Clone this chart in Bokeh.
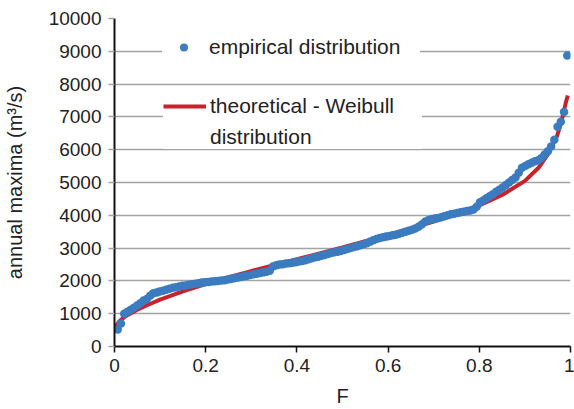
from bokeh.plotting import figure
from bokeh.models import Range1d, FixedTicker, Legend, LegendItem
from bokeh.embed import file_html
from bokeh.resources import INLINE

# Empirical annual maxima (sorted), plotted at F = i/(n+1)
empirical_maxima = [
    520, 700, 1000, 1060, 1120, 1180, 1250, 1320, 1400, 1450,
    1550, 1620, 1650, 1680, 1700, 1730, 1760, 1790, 1810, 1830,
    1850, 1860, 1880, 1900, 1910, 1930, 1950, 1960, 1970, 1980,
    1990, 2000, 2010, 2020, 2040, 2060, 2080, 2100, 2120, 2140,
    2160, 2180, 2200, 2220, 2240, 2260, 2280, 2310, 2440, 2480,
    2500, 2510, 2530, 2540, 2550, 2570, 2590, 2610, 2630, 2660,
    2690, 2720, 2740, 2770, 2790, 2820, 2850, 2870, 2890, 2910,
    2940, 2970, 3000, 3030, 3060, 3090, 3120, 3150, 3190, 3240,
    3280, 3310, 3330, 3350, 3370, 3390, 3410, 3440, 3470, 3500,
    3530, 3560, 3600, 3650, 3720, 3800, 3850, 3880, 3900, 3920,
    3940, 3970, 4000, 4030, 4050, 4070, 4090, 4110, 4130, 4150,
    4180, 4260, 4400, 4450, 4520, 4580, 4640, 4720, 4780, 4850,
    4920, 5000, 5080, 5150, 5300, 5450, 5500, 5560, 5600, 5650,
    5680, 5750, 5850, 5950, 6100, 6300, 6700, 6850, 7150, 8870,
]
n = len(empirical_maxima)
empirical_F = [(i + 1) / (n + 1) for i in range(n)]

# Theoretical Weibull distribution
weibull_F = [0.003, 0.005, 0.01, 0.02, 0.03, 0.05, 0.075, 0.1, 0.15, 0.2,
             0.25, 0.3, 0.35, 0.4, 0.45, 0.5, 0.55, 0.6, 0.65, 0.7,
             0.75, 0.8, 0.85, 0.9, 0.93, 0.95, 0.97, 0.98, 0.99, 0.994]
weibull_q = [590, 650, 760, 880, 970, 1120, 1280, 1430, 1680, 1900,
             2110, 2300, 2480, 2660, 2840, 3020, 3210, 3400, 3600, 3810,
             4040, 4300, 4620, 5050, 5450, 5850, 6400, 6850, 7450, 7650]

x_ticks = [0, 0.2, 0.4, 0.6, 0.8, 1]
x_tick_labels = ["0", "0.2", "0.4", "0.6", "0.8", "1"]
y_ticks = list(range(0, 10001, 1000))

FONT = "Liberation Sans"
BLUE = "#3b7bbf"
RED = "#c8232c"

p = figure(width=574, height=409, output_backend="svg", toolbar_location=None,
           x_range=Range1d(0, 1), y_range=Range1d(0, 10000),
           min_border_left=113, min_border_right=4, min_border_top=18,
           min_border_bottom=63)
p.outline_line_color = None
p.background_fill_color = "white"
p.border_fill_color = "white"

p.xgrid.grid_line_color = None
p.ygrid.grid_line_color = "#a3a3a3"
p.ygrid.grid_line_width = 1.5
p.ygrid.ticker = FixedTicker(ticks=y_ticks)

for ax in (p.xaxis[0], p.yaxis[0]):
    ax.axis_line_color = "#111111"
    ax.axis_line_width = 2
    ax.major_tick_line_color = "#111111"
    ax.major_tick_line_width = 1.5
    ax.major_tick_out = 6
    ax.major_tick_in = 0
    ax.minor_tick_line_color = None
    ax.major_label_text_font = FONT
    ax.major_label_text_font_size = "19px"
    ax.major_label_text_color = "#222222"
    ax.axis_label_text_font = FONT
    ax.axis_label_text_font_size = "20px"
    ax.axis_label_text_font_style = "normal"
    ax.axis_label_text_color = "#222222"

p.yaxis[0].major_tick_line_color = "#a3a3a3"
p.xaxis.ticker = FixedTicker(ticks=x_ticks)
p.xaxis.major_label_overrides = dict(zip(x_ticks, x_tick_labels))
p.xaxis.major_label_standoff = 6
p.xaxis.axis_label = "F"
p.xaxis.axis_label_standoff = 10
p.yaxis.ticker = FixedTicker(ticks=y_ticks)
p.yaxis.major_label_standoff = 7
p.yaxis.axis_label = "annual maxima (m³/s)"
p.yaxis.axis_label_standoff = 20

r_line = p.line(weibull_F, weibull_q, line_color=RED, line_width=4)
r_pts = p.scatter(empirical_F, empirical_maxima, size=8.5, fill_color=BLUE,
                  line_color=BLUE, line_width=0)
# invisible renderer used only for the second line of the legend label
r_blank = p.line([], [], line_alpha=0)


def style(lg, pad, lw):
    lg.label_text_font = FONT
    lg.label_text_font_size = "21px"
    lg.label_text_color = "#222222"
    lg.glyph_width = 43
    lg.glyph_height = 20
    lg.label_standoff = 4
    lg.padding = pad
    lg.spacing = 7
    lg.border_line_color = None
    lg.background_fill_color = "white"
    lg.background_fill_alpha = 1.0
    lg.label_height = 22
    lg.label_width = lw


legend_a = Legend(items=[
    LegendItem(label="empirical distribution", renderers=[r_pts]),
], location=(48, 287))
style(legend_a, 14, 211)
legend_b = Legend(items=[
    LegendItem(label="theoretical - Weibull", renderers=[r_line]),
    LegendItem(label="distribution", renderers=[r_blank]),
], location=(49, 197))
style(legend_b, 18, 212)
p.add_layout(legend_a, "center")
p.add_layout(legend_b, "center")

open("out.html", "w").write(file_html(p, INLINE))
